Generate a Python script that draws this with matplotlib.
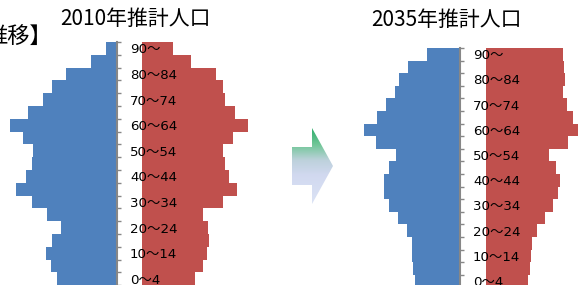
import numpy as np
import matplotlib
matplotlib.use("Agg")
import matplotlib.pyplot as plt
from matplotlib.path import Path
from matplotlib.patches import PathPatch

plt.rcParams['font.family'] = ['Noto Sans CJK JP', 'DejaVu Sans']

# ---- data (age groups from youngest to oldest) ----
age_groups = ['0～4', '5～9', '10～14', '15～19', '20～24', '25～29', '30～34',
              '35～39', '40～44', '45～49', '50～54', '55～59', '60～64',
              '65～69', '70～74', '75～79', '80～84', '85～89', '90～']
male_2010 = [60, 66, 71, 65, 56, 70, 85, 101, 91, 85, 84, 94, 107, 89, 74, 65, 51, 26, 11]
female_2010 = [53, 61, 65, 67, 66, 61, 81, 95, 87, 83, 81, 91, 106, 93, 83, 81, 74, 49, 31]
male_2035 = [45, 47, 48, 48, 53, 62, 71, 76, 76, 71, 64, 84, 96, 83, 74, 65, 61, 52, 33]
female_2035 = [42, 44, 45, 46, 51, 59, 67, 72, 74, 70, 63, 82, 94, 87, 81, 77, 79, 78, 77]
titles = ['2010年推計人口', '2035年推計人口']
heading = '推移】'

BLUE = '#4F81BD'
RED = '#C0504D'
GRAY = '#878787'
LABEL_FONT = ['DejaVu Sans', 'Noto Sans CJK JP']

W, H = 578, 285
fig = plt.figure(figsize=(W / 100, H / 100), dpi=100)


def px_axes(x0, x1, ytop, ybot):
    return fig.add_axes([x0 / W, (H - ybot) / H, (x1 - x0) / W, (ybot - ytop) / H])


def pyramid(male, female, axis_x, fem_x, ytop, ybot, male_w, female_w):
    y = np.arange(len(age_groups))
    # female side
    axf = px_axes(fem_x, fem_x + female_w, ytop, ybot)
    axf.barh(y, female, height=1.0, color=RED, edgecolor='none')
    axf.set_xlim(0, female_w)
    axf.set_ylim(-0.5, len(y) - 0.5)
    axf.axis('off')
    axf.set_zorder(1)
    # male side
    axm = px_axes(axis_x - male_w, axis_x, ytop, ybot)
    axm.barh(y, male, height=1.0, color=BLUE, edgecolor='none')
    axm.set_xlim(male_w, 0)
    axm.set_ylim(-0.5, len(y) - 0.5)
    for s in ['left', 'top', 'bottom']:
        axm.spines[s].set_visible(False)
    axm.spines['right'].set_color(GRAY)
    axm.spines['right'].set_linewidth(1.5)
    axm.set_xticks([])
    axm.yaxis.tick_right()
    axm.set_yticks(y[::2], [age_groups[i] for i in y[::2]])
    axm.set_yticks(np.arange(-0.5, len(y), 1.0), minor=True)
    axm.tick_params(axis='y', which='major', length=0, pad=9.4)
    axm.tick_params(axis='y', which='minor', length=2.8, width=1.0, color=GRAY,
                    direction='out')
    for lab in axm.get_yticklabels():
        lab.set_horizontalalignment('left')
        lab.set_fontfamily(LABEL_FONT)
        lab.set_fontsize(9.6)
    axm.patch.set_alpha(0)
    axm.set_zorder(2)


pyramid(male_2010, female_2010, axis_x=117, fem_x=142, ytop=42, ybot=285.2,
        male_w=117, female_w=150)
pyramid(male_2035, female_2035, axis_x=460, fem_x=486, ytop=48, ybot=287.4,
        male_w=120, female_w=114)

fig.text(135.5 / W, 1 - 19 / H, titles[0], ha='center', va='center', fontsize=15)
fig.text(446 / W, 1 - 20 / H, titles[1], ha='center', va='center', fontsize=15)
fig.text(-15 / W, 1 - 36 / H, heading, ha='left', va='center', fontsize=16)

# ---- gradient arrow ----
ov = fig.add_axes([0, 0, 1, 1])
ov.set_xlim(0, W)
ov.set_ylim(H, 0)
ov.axis('off')
ov.patch.set_alpha(0)
ov.set_zorder(3)
verts = [(292, 147), (312, 147), (312, 128), (333, 166), (312, 204), (312, 185),
         (292, 185), (292, 147)]
codes = [Path.MOVETO] + [Path.LINETO] * 6 + [Path.CLOSEPOLY]
arrow = PathPatch(Path(verts, codes), facecolor='none', edgecolor='none')
ov.add_patch(arrow)
yy = np.linspace(128, 204, 200)
stops_y = [128, 145, 160, 175, 204]
stops_c = np.array([[0.18, 0.68, 0.42], [0.45, 0.78, 0.60], [0.74, 0.82, 0.86],
                    [0.82, 0.85, 0.94], [0.86, 0.89, 0.96]])
grad = np.stack([np.interp(yy, stops_y, stops_c[:, k]) for k in range(3)], axis=-1)
grad = grad[:, None, :]
im = ov.imshow(grad, extent=[292, 333, 204, 128], aspect='auto', interpolation='bilinear')
im.set_clip_path(arrow)
ov.set_xlim(0, W)
ov.set_ylim(H, 0)

fig.savefig('out.png', dpi=100)
